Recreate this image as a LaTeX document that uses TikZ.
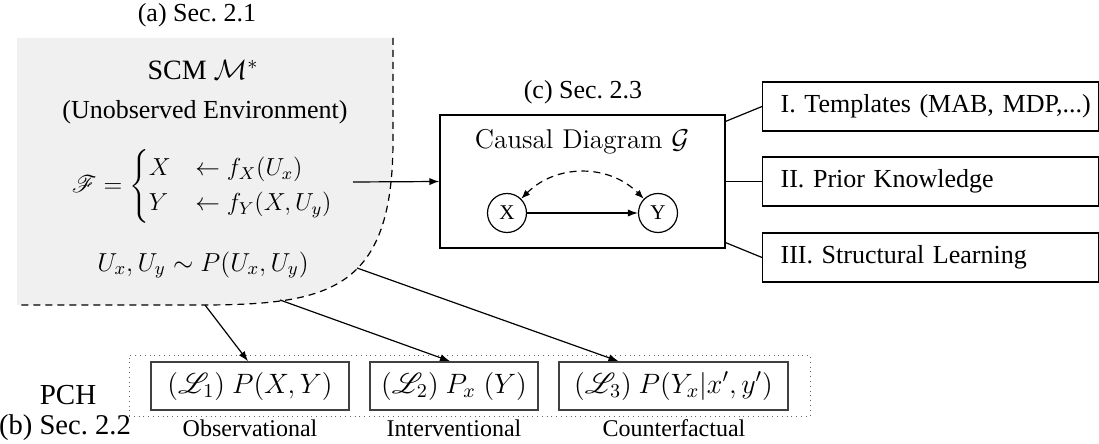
\documentclass[tikz,border=0pt]{standalone}
\usepackage{fix-cm}
\usepackage{amsmath,amssymb}
\usepackage{mathrsfs}
\usepackage[no-math]{fontspec}
\newfontfamily\tnr{Liberation Serif}
\usetikzlibrary{arrows.meta,calc}
\tikzset{
  every node/.style={font=\tnr\fontsize{13}{15.6}\selectfont, inner sep=0pt},
  conn/.style={line width=0.6pt},
  arr/.style={conn,-{Latex[length=5pt,width=3.6pt]}},
  dashline/.style={line width=0.6pt, dash pattern=on 3.5pt off 2.5pt},
  box/.style={draw, line width=0.6pt},
  rbox/.style={draw, line width=0.6pt, anchor=west, minimum width=168pt, minimum height=24.5pt,
    text width=150pt, inner xsep=9pt, align=left},
  lbox/.style={draw=black!75, line width=0.8pt, minimum height=24pt, font=\tnr\fontsize{14}{16}\selectfont},
  vnode/.style={circle, draw, line width=0.6pt, minimum size=19.5pt, font=\tnr\fontsize{10.5}{12}\selectfont},
  small/.style={font=\tnr\fontsize{12}{14}\selectfont},
}
\begin{document}
\begin{tikzpicture}[x=0.5pt,y=-0.5pt]
\useasboundingbox (0,0) rectangle (1099,444);
% SCM region
\fill[black!6] (17,38) -- (393,38) -- (393,140) .. controls (393,290) and (330,305) .. (200,305) -- (17,305) -- cycle;
\draw[dashline] (393,38) -- (393,140) .. controls (393,290) and (330,305) .. (200,305) -- (17,305);
\node (seca) at (197,15) {(a) Sec.~2.1};
\node[font=\tnr\fontsize{14}{16}\selectfont] (scm) at (203,70) {SCM $\mathcal{M}^*$};
\node (unobs) at (205,112) {(Unobserved Environment)};
\node[font=\tnr\fontsize{12.3}{14.8}\selectfont] (eq) at (203,186) {$\mathscr{F} = \begin{cases} X & \leftarrow f_X(U_x)\\ Y & \leftarrow f_Y(X,U_y)\end{cases}$};
\node (pu) at (203,265) {$U_x,U_y\sim P(U_x,U_y)$};
% causal diagram
\node (secc) at (583,92) {(c) Sec.~2.3};
\node[box, minimum width=142.5pt, minimum height=66.5pt] (cd) at (582.5,181.5) {};
\node[font=\rmfamily\fontsize{13.6}{16}\selectfont] (cdt) at (582,142) {Causal Diagram $\mathcal{G}$};
\node[vnode] (X) at (507,213) {X};
\node[vnode] (Y) at (658,213) {Y};
\draw[arr] (X) -- (Y);
\draw[dashline, {Latex[length=4.5pt,width=3.4pt]}-{Latex[length=4.5pt,width=3.4pt]}]
  (X.45) .. controls ($(X.45)+(35,-35)$) and ($(Y.135)+(-35,-35)$) .. (Y.135);
\coordinate (eqa) at (353,182);
\draw[arr] (eqa) -- (cd.west);
% right boxes
\node[rbox] (r1) at (762,106.5) {\mbox{I. Templates (MAB, MDP,...)}};
\node[rbox] (r2) at (762,181.5) {\mbox{II. Prior Knowledge}};
\node[rbox] (r3) at (762,257.5) {\mbox{III. Structural Learning}};
\draw[conn] ($(cd.north east)+(0,7)$) -- (r1.west);
\draw[conn] (cd.east) -- (r2.west);
\draw[conn] ($(cd.south east)+(0,-6)$) -- (r3.west);
% PCH
\node[draw=black!60, line width=0.4pt, dotted, minimum width=340.5pt, minimum height=30.5pt] (pch) at (469.5,385.5) {};
\node[lbox, minimum width=99pt] (b1) at (250,386) {$(\mathscr{L}_1)~P(X,Y)$};
\node[lbox, minimum width=84pt] (b2) at (454,386) {$(\mathscr{L}_2)~P_x\;(Y)$};
\node[lbox, minimum width=114.5pt] (b3) at (673.5,386) {$(\mathscr{L}_3)~P(Y_x|x',y')$};
\node[small] (l1) at (250,428) {Observational};
\node[small] (l2) at (454,428) {Interventional};
\node[small] (l3) at (674,428) {Counterfactual};
\node[font=\tnr\fontsize{14.5}{17}\selectfont] (pchl) at (68,395) {PCH};
\node[font=\tnr\fontsize{14.3}{17}\selectfont] (secb) at (65,428) {(b) Sec.~2.2};
\coordinate (s1) at (205,305);
\coordinate (s2) at (280,300);
\coordinate (s3) at (357,268);
\draw[arr] (s1) -- ($(b1.north)+(-2,0)$);
\draw[arr] (s2) -- ($(b2.north)+(-4,0)$);
\draw[arr] (s3) -- ($(b3.north)+(-55,0)$);
\end{tikzpicture}
\end{document}
